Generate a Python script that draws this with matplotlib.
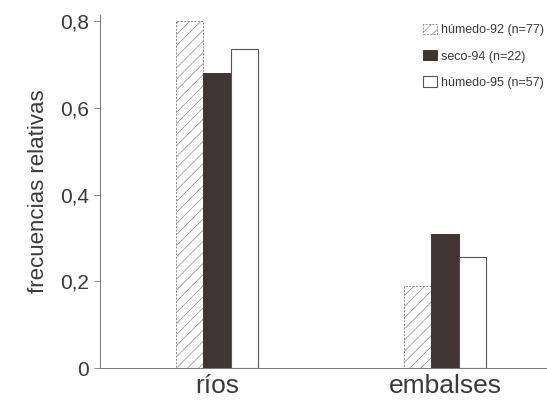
import matplotlib
matplotlib.use("Agg")
import matplotlib.pyplot as plt
import numpy as np

# values
categories = ["ríos", "embalses"]
series = ["húmedo-92 (n=77)", "seco-94 (n=22)", "húmedo-95 (n=57)"]
humedo92 = [0.80, 0.19]
seco94 = [0.68, 0.31]
humedo95 = [0.735, 0.256]
yticks = [0, 0.2, 0.4, 0.6, 0.8]
ytick_labels = ["0", "0,2", "0,4", "0,6", "0,8"]

plt.rcParams["font.family"] = ["Liberation Sans", "DejaVu Sans"]
plt.rcParams["hatch.color"] = "#bdbdbd"
plt.rcParams["hatch.linewidth"] = 0.5

TEXT = "#3a3a3a"
DARK = "#3f3535"

fig = plt.figure(figsize=(5.47, 4.05), dpi=100)
ax = fig.add_axes([100 / 547, 37 / 405, 447 / 547, 353 / 405])

x = np.arange(len(categories))
w = 0.12
ax.bar(x - w, humedo92, w, facecolor="white", edgecolor="#8a8a8a",
       hatch="///", linewidth=0.7, linestyle=(0, (2, 1.5)), label=series[0])
ax.bar(x, seco94, w, facecolor=DARK, edgecolor=DARK, linewidth=0.7, label=series[1])
ax.bar(x + w, humedo95, w, facecolor="white", edgecolor="#555555",
       linewidth=0.8, label=series[2])

ax.set_xlim(-0.513, 1.447)
ax.set_ylim(0, 0.814)
ax.set_yticks(yticks)
ax.set_yticklabels(ytick_labels, fontsize=15, color=TEXT)
ax.set_xticks(x)
ax.set_xticklabels(categories, fontsize=19, color=TEXT)
ax.tick_params(axis="x", length=0, pad=4)
ax.tick_params(axis="y", length=4, width=0.6, color="#777777", pad=4)
for s in ("top", "right"):
    ax.spines[s].set_visible(False)
for s in ("left", "bottom"):
    ax.spines[s].set_color("#777777")
    ax.spines[s].set_linewidth(0.7)
ax.set_ylabel("frecuencias relativas", fontsize=16, color=TEXT, labelpad=8)

leg = ax.legend(loc="upper left", bbox_to_anchor=(0.7226, 0.975), frameon=False,
                fontsize=9, handlelength=1.15, handleheight=0.9, handletextpad=0.3,
                labelspacing=1.1, borderpad=0, borderaxespad=0)
for t in leg.get_texts():
    t.set_color(TEXT)

fig.savefig("out.png", dpi=100)
